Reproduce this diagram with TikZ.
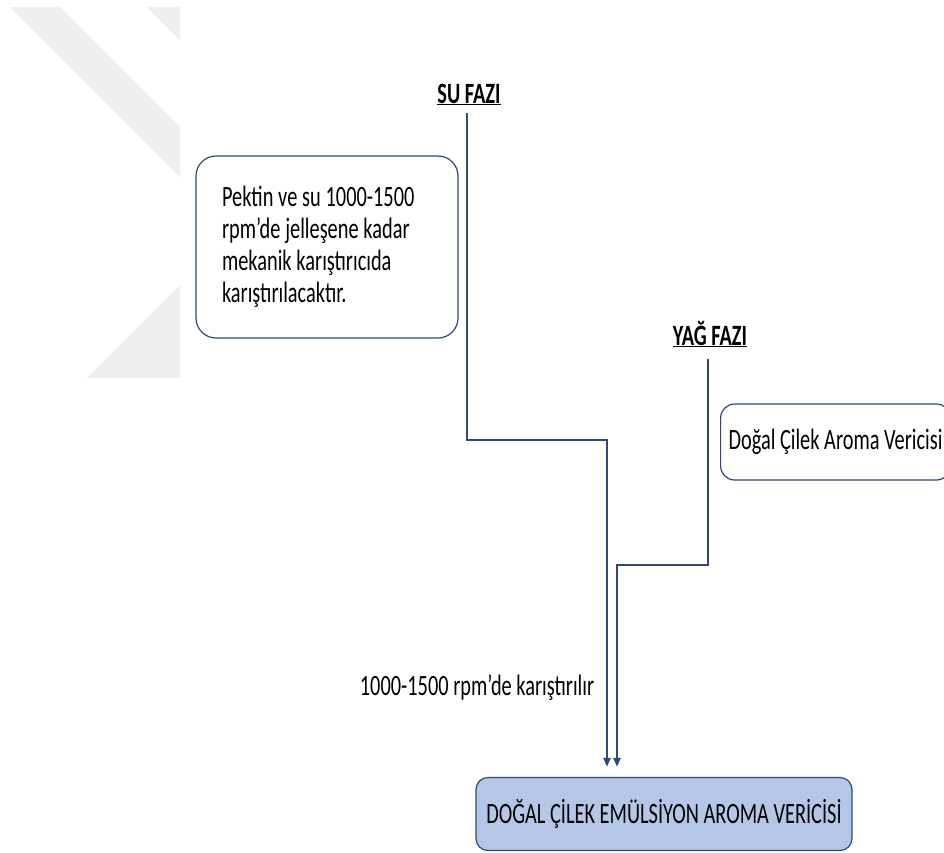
\documentclass[tikz,border=0pt]{standalone}
\usepackage{fontspec}
\setmainfont{Carlito}[FakeStretch=0.69]
\usetikzlibrary{arrows.meta}
\definecolor{navy}{RGB}{47,72,120}
\definecolor{boxblue}{RGB}{180,199,231}
\definecolor{wmgray}{RGB}{239,239,239}

\begin{document}
\begin{tikzpicture}[x=1pt,y=-1pt,
	txt/.style={font=\fontsize{29.5}{32}\selectfont, inner sep=0pt},
	phase/.style={font=\fontsize{29.5}{32}\selectfont\bfseries, inner sep=0pt, anchor=base},
	rbox/.style={txt, draw=navy, line width=1.2pt, rounded corners=20pt},
	pipe/.style={draw=navy, line width=2.5pt, -{Triangle[width=7pt,length=9pt]}}]
	\clip (0,0) rectangle (944,852);
	\fill[white] (0,0) rectangle (944,852);
	
	% faint mark in the corner
	\fill[wmgray] (10,7) -- (60,7) -- (180,127) -- (180,177) -- cycle;
	\fill[wmgray] (147,7) -- (180,7) -- (180,40) -- cycle;
	\fill[wmgray] (180,285) -- (180,378) -- (87,378) -- cycle;
	
	\node[phase] (su) at (469,103) {\underline{SU FAZI}};
	\node[rbox, minimum width=262pt, minimum height=182pt, text width=210pt, align=left] (pektin) at (327,247)
		{\spaceskip=4.8pt\relax Pektin ve su 1000-1500\newline rpm’de jelleşene kadar\newline mekanik karıştırıcıda\newline karıştırılacaktır.\par\vspace*{20pt}};
	
	\node[phase] (yag) at (710,345) {\underline{YAĞ FAZI}};
	\node[rbox, rounded corners=14pt, anchor=west, inner xsep=8pt, minimum height=76pt] (aroma) at (720,442)
		{Doğal Çilek Aroma Vericisi};
	
	\node[txt, anchor=base] (rpm) at (477,695) {1000-1500 rpm’de karıştırılır};
	\node[rbox, fill=boxblue, rounded corners=12pt, minimum width=376pt, minimum height=73pt] (result) at (664,814)
		{DOĞAL ÇİLEK EMÜLSİYON AROMA VERİCİSİ};
	
	\coordinate (k1) at (607,440);
	\coordinate (k2) at (617,565);
	\draw[pipe, shorten <=8pt, shorten >=10pt] (su.south -| 467,0) |- (k1) -- (k1 |- result.north);
	\draw[pipe, shorten <=12pt, shorten >=10pt] (yag.south -| 708,0) |- (k2) -- (k2 |- result.north);
\end{tikzpicture}
\end{document}
